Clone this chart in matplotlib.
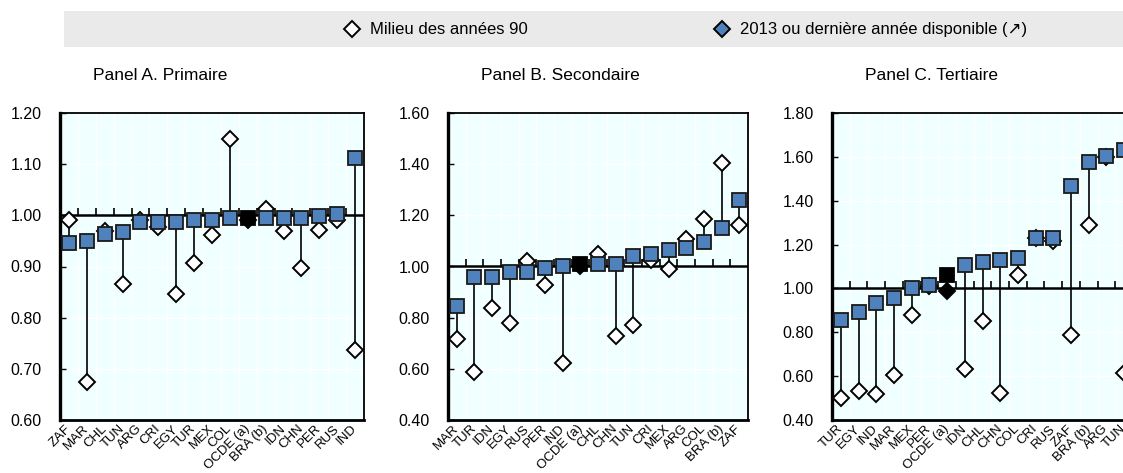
import matplotlib
matplotlib.use("Agg")
import matplotlib.pyplot as plt
from matplotlib.patches import Rectangle
import numpy as np

# ---------------- data ----------------
cats_a = ["ZAF", "MAR", "CHL", "TUN", "ARG", "CRI", "EGY", "TUR", "MEX", "COL",
          "OCDE (a)", "BRA (b)", "IDN", "CHN", "PER", "RUS", "IND"]
old_a = [0.99, 0.675, 0.97, 0.865, 0.99, 0.978, 0.847, 0.907, 0.961, 1.149,
         0.99, 1.013, 0.97, 0.898, 0.972, 0.99, 0.736]
new_a = [0.946, 0.95, 0.963, 0.967, 0.986, 0.986, 0.986, 0.99, 0.99, 0.995,
         0.995, 0.995, 0.995, 0.995, 0.999, 1.003, 1.112]

cats_b = ["MAR", "TUR", "IDN", "EGY", "RUS", "PER", "IND", "OCDE (a)", "CHL", "CHN",
          "TUN", "CRI", "MEX", "ARG", "COL", "BRA (b)", "ZAF"]
old_b = [0.716, 0.589, 0.839, 0.778, 1.02, 0.926, 0.622, 1.0, 1.048, 0.73,
         0.77, 1.025, 0.99, 1.107, 1.185, 1.404, 1.163]
new_b = [0.846, 0.96, 0.96, 0.978, 0.978, 0.993, 1.0, 1.01, 1.01, 1.01,
         1.04, 1.05, 1.063, 1.074, 1.095, 1.15, 1.26]

cats_c = ["TUR", "EGY", "IND", "MAR", "MEX", "PER", "OCDE (a)", "IDN", "CHL", "CHN",
          "COL", "CRI", "RUS", "ZAF", "BRA (b)", "ARG", "TUN"]
old_c = [0.502, 0.532, 0.52, 0.604, 0.877, 1.01, 0.99, 0.634, 0.851, 0.522,
         1.061, 1.23, 1.215, 0.789, 1.288, 1.60, 0.616]
new_c = [0.856, 0.894, 0.932, 0.958, 1.003, 1.014, 1.06, 1.105, 1.121, 1.129,
         1.14, 1.231, 1.231, 1.466, 1.577, 1.606, 1.63]

titles = ["Panel A. Primaire", "Panel B. Secondaire", "Panel C. Tertiaire"]
yticks_a = [0.60, 0.70, 0.80, 0.90, 1.00, 1.10, 1.20]
yticks_b = [0.40, 0.60, 0.80, 1.00, 1.20, 1.40, 1.60]
yticks_c = [0.40, 0.60, 0.80, 1.00, 1.20, 1.40, 1.60, 1.80]
legend_labels = ["Milieu des années 90", "2013 ou dernière année disponible (\u2197)"]
oecd_label = "OCDE (a)"

# ---------------- fonts ----------------
plt.rcParams["font.family"] = ["Liberation Sans", "DejaVu Sans"]

BLUE = "#4F81BD"
BG = "#F0FFFF"

W, H = 1123, 473
fig = plt.figure(figsize=(W / 100, H / 100), dpi=100)

# axes rectangles in pixels: left, right, top, bottom
rects = [(60, 364, 113, 420), (448, 748, 113, 420), (832, 1133, 113, 420)]
panels = [(cats_a, old_a, new_a, yticks_a),
          (cats_b, old_b, new_b, yticks_b),
          (cats_c, old_c, new_c, yticks_c)]

for (l, r, t, b), (cats, old, new, yt), title in zip(rects, panels, titles):
    ax = fig.add_axes([l / W, 1 - b / H, (r - l) / W, (b - t) / H])
    ax.set_facecolor(BG)
    n = len(cats)
    x = np.arange(n)
    ax.set_xlim(-0.5, n - 0.5)
    ax.set_ylim(yt[0], yt[-1])
    # grid
    for yv in yt:
        ax.axhline(yv, color="white", lw=1.0, zorder=0.5)
    for xb in np.arange(n + 1) - 0.5:
        ax.axvline(xb, color="white", lw=1.0, zorder=0.5)
    # reference line at 1.00
    ax.axhline(1.0, color="black", lw=1.8, zorder=1)
    ax.plot(np.arange(1, n) - 0.5, [1.0] * (n - 1), ls="none", marker=2,
            ms=5, mew=1.2, color="black", zorder=1)
    # connecting lines
    ax.vlines(x, old, new, color="black", lw=1.2, zorder=2)
    for i, c in enumerate(cats):
        is_o = c == oecd_label
        ax.plot(x[i], old[i], marker="D", ms=8.3, ls="none",
                mfc="black" if is_o else "white", mec="black", mew=1.4, zorder=3)
        ax.plot(x[i], new[i], marker="s", ms=10.5, ls="none",
                mfc="black" if is_o else BLUE, mec="black" if is_o else "#1a1a1a",
                mew=1.3, zorder=4)
    ax.set_yticks(yt)
    ax.set_yticklabels([f"{v:.2f}" for v in yt], fontsize=11.5)
    ax.tick_params(axis="y", direction="in", length=4, width=1, pad=13)
    ax.set_xticks(x)
    ax.set_xticklabels(cats, rotation=45, ha="right", va="center",
                       rotation_mode="anchor", fontsize=9.5)
    ax.tick_params(axis="x", length=0, pad=5)
    for s in ["top", "right"]:
        ax.spines[s].set_linewidth(1.3)
    ax.spines["left"].set_linewidth(2.4)
    ax.spines["bottom"].set_linewidth(2.0)
    fig.text((l + 33) / W, 1 - 75 / H, title, fontsize=12.5,
             ha="left", va="center")

# ---------------- legend band ----------------
lax = fig.add_axes([0, 0, 1, 1], zorder=-1)
lax.set_xlim(0, W)
lax.set_ylim(H, 0)
lax.axis("off")
lax.add_patch(Rectangle((64, 11), W - 64, 36, color="#EAEAEA", lw=0))
lax.plot([352], [29.5], marker="D", ms=8.5, mfc="white", mec="black", mew=1.4, ls="none")
lax.text(370, 29.5, legend_labels[0], fontsize=12, ha="left", va="center")
lax.plot([722], [29.5], marker="D", ms=8.5, mfc=BLUE, mec="black", mew=1.4, ls="none")
lax.text(740, 29.5, legend_labels[1], fontsize=12, ha="left", va="center")

fig.savefig("out.png", dpi=100)
